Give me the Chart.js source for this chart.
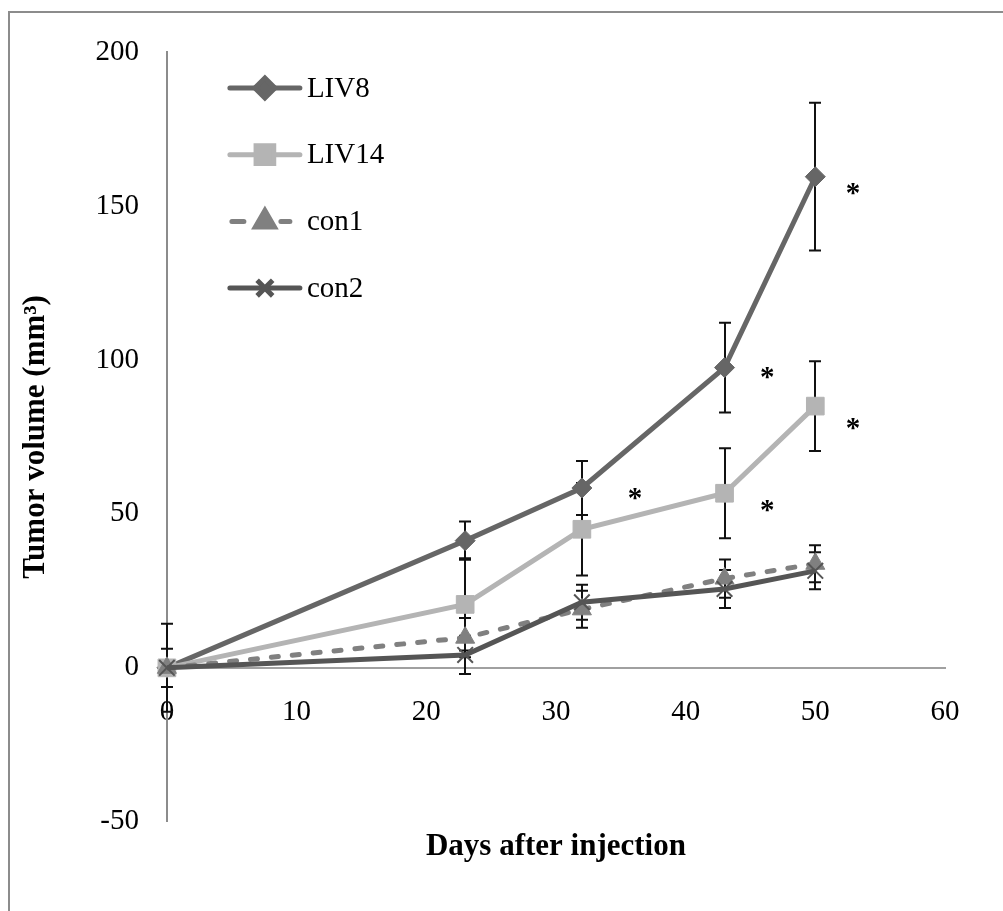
<!DOCTYPE html>
<html>
<head>
<meta charset="utf-8">
<title>Tumor volume</title>
<script src="https://cdn.jsdelivr.net/npm/chart.js@4.4.1/dist/chart.umd.min.js"></script>
<style>
    html, body { margin: 0; padding: 0; background: #fff; overflow: hidden; }
    #wrap { position: relative; width: 1003px; height: 911px; }
    #frame {
        position: absolute; left: 8px; top: 11px; width: 1100px; height: 1000px;
        border-left: 2px solid #8c8c8c; border-top: 2px solid #8c8c8c;
    }
    #chart { position: absolute; left: 0; top: 0; }
</style>
</head>
<body>
<div id="wrap">
    <div id="frame"></div>
    <canvas id="chart" width="1003" height="911"></canvas>
</div>
<script>
// Days after injection
const days = [0, 23, 32, 43, 50];

// Mean tumor volume (mm3) and error per group
const liv8 = [0, 41.3, 58.4, 97.5, 159.5];
const liv8Err = [14.3, 6.2, 8.8, 14.6, 24];
const liv14 = [0, 20.6, 45, 56.7, 85];
const liv14Err = [6.2, 15, 15, 14.6, 14.6];
const con1 = [0, 9.8, 19, 29, 33.8];
const con1Err = [0, 6.4, 6, 6.2, 6];
const con2 = [0, 4.2, 21.3, 25.6, 31.5];
const con2Err = [0, 6.2, 5.7, 6.2, 6];

const seriesNames = ['LIV8', 'LIV14', 'con1', 'con2'];

// significance marks (*) in data units
const starDays = [52.9, 46.3, 52.9, 46.3, 36.1];
const starValues = [155.4, 95.6, 79.3, 52.7, 56.6];

const FONT = "'Liberation Serif', 'Times New Roman', serif";

function points(values) {
    return days.map((d, i) => ({ x: d, y: values[i] }));
}

// vertical error bars, drawn under the lines
const errorBars = {
    id: 'errorBars',
    beforeDatasetsDraw(chart) {
        const { ctx, scales: { x, y } } = chart;
        ctx.save();
        ctx.strokeStyle = '#111';
        ctx.lineWidth = 2;
        chart.data.datasets.forEach(ds => {
            ds.data.forEach((p, i) => {
                const e = ds.errors[i];
                if (!e) return;
                const px = Math.round(x.getPixelForValue(p.x));
                const top = y.getPixelForValue(p.y + e);
                const bot = y.getPixelForValue(p.y - e);
                ctx.beginPath();
                ctx.moveTo(px, top); ctx.lineTo(px, bot);
                ctx.moveTo(px - 6, top); ctx.lineTo(px + 6, top);
                ctx.moveTo(px - 6, bot); ctx.lineTo(px + 6, bot);
                ctx.stroke();
            });
        });
        ctx.restore();
    }
};

// asterisks next to the points
const stars = {
    id: 'stars',
    afterDatasetsDraw(chart) {
        const { ctx, scales: { x, y } } = chart;
        ctx.save();
        ctx.fillStyle = '#000';
        ctx.font = 'bold 29px ' + FONT;
        ctx.textAlign = 'center';
        ctx.textBaseline = 'alphabetic';
        starDays.forEach((d, i) => {
            ctx.fillText('*', x.getPixelForValue(d), y.getPixelForValue(starValues[i]) + 13);
        });
        ctx.restore();
    }
};

// legend drawn inside the plot, top left
const insideLegend = {
    id: 'insideLegend',
    afterDraw(chart) {
        const { ctx, chartArea } = chart;
        const x0 = chartArea.left + 63, x1 = chartArea.left + 133;
        const xm = (x0 + x1) / 2;
        ctx.save();
        chart.data.datasets.forEach((ds, i) => {
            const yy = chartArea.top + 36 + i * 66.7;
            const dashed = ds.borderDash && ds.borderDash.length;
            ctx.strokeStyle = ds.borderColor;
            ctx.lineWidth = ds.borderWidth;
            ctx.lineCap = 'round';
            ctx.beginPath();
            if (dashed) {
                ctx.moveTo(x0 + 2, yy); ctx.lineTo(x0 + 14, yy);
                ctx.moveTo(xm + 16, yy); ctx.lineTo(xm + 25, yy);
            } else {
                ctx.moveTo(x0, yy); ctx.lineTo(x1, yy);
            }
            ctx.stroke();
            ctx.fillStyle = ds.pointBackgroundColor;
            ctx.strokeStyle = ds.pointBorderColor;
            ctx.lineCap = 'butt';
            Chart.helpers.drawPoint(ctx, {
                pointStyle: ds.pointStyle,
                radius: ds.pointRadius,
                rotation: 0,
                borderWidth: ds.pointBorderWidth
            }, xm, yy);
            ctx.fillStyle = '#000';
            ctx.font = '29px ' + FONT;
            ctx.textAlign = 'left';
            ctx.textBaseline = 'middle';
            ctx.fillText(seriesNames[i], x1 + 7, yy + 1);
        });
        ctx.restore();
    }
};

function makeSet(i, values, errs, color, style, radius, extra) {
    return Object.assign({
        label: seriesNames[i],
        data: points(values),
        errors: errs,
        borderColor: color,
        borderWidth: 5,
        pointStyle: style,
        pointRadius: radius,
        pointHoverRadius: radius,
        pointBackgroundColor: color,
        pointBorderColor: color,
        pointBorderWidth: 1,
        tension: 0,
        fill: false,
        clip: false
    }, extra);
}

const ctx = document.getElementById('chart');

new Chart(ctx, {
    type: 'line',
    data: {
        datasets: [
            makeSet(0, liv8, liv8Err, '#666666', 'rectRot', 10, { order: 4 }),
            makeSet(1, liv14, liv14Err, '#b4b4b4', 'rect', 12.5, { order: 3 }),
            makeSet(2, con1, con1Err, '#808080', 'triangle', 11, {
                order: 2, borderDash: [7, 14], borderCapStyle: 'round'
            }),
            makeSet(3, con2, con2Err, '#555555', 'crossRot', 11, {
                order: 1, pointBorderWidth: 2
            })
        ]
    },
    options: {
        responsive: false,
        animation: false,
        layout: { padding: { left: 8, right: 58, top: 52, bottom: 45 } },
        plugins: {
            legend: { display: false },
            tooltip: { enabled: false },
            title: {
                display: true,
                position: 'bottom',
                fullSize: false,
                text: 'Days after injection',
                color: '#000',
                font: { family: FONT, size: 31, weight: 'bold' },
                padding: { top: 7, bottom: 0 }
            }
        },
        scales: {
            x: {
                type: 'linear',
                position: { y: 0 },
                min: 0,
                max: 60,
                afterFit: (scale) => { scale.height = 0; },
                ticks: {
                    stepSize: 10,
                    color: '#000',
                    padding: 27,
                    font: { family: FONT, size: 29 }
                },
                grid: { display: false, drawTicks: false },
                border: { display: true, color: '#a0a0a0', width: 2 }
            },
            y: {
                type: 'linear',
                position: 'left',
                min: -50,
                max: 200,
                ticks: {
                    stepSize: 50,
                    color: '#000',
                    padding: 28,
                    font: { family: FONT, size: 29 }
                },
                grid: { display: false, drawTicks: false },
                border: { display: true, color: '#8c8c8c', width: 2 },
                title: {
                    display: true,
                    text: 'Tumor volume (mm³)',
                    color: '#000',
                    font: { family: FONT, size: 31, weight: 'bold' },
                    padding: { top: 9.4, bottom: 12.8 }
                }
            }
        }
    },
    plugins: [errorBars, stars, insideLegend]
});
</script>
</body>
</html>
